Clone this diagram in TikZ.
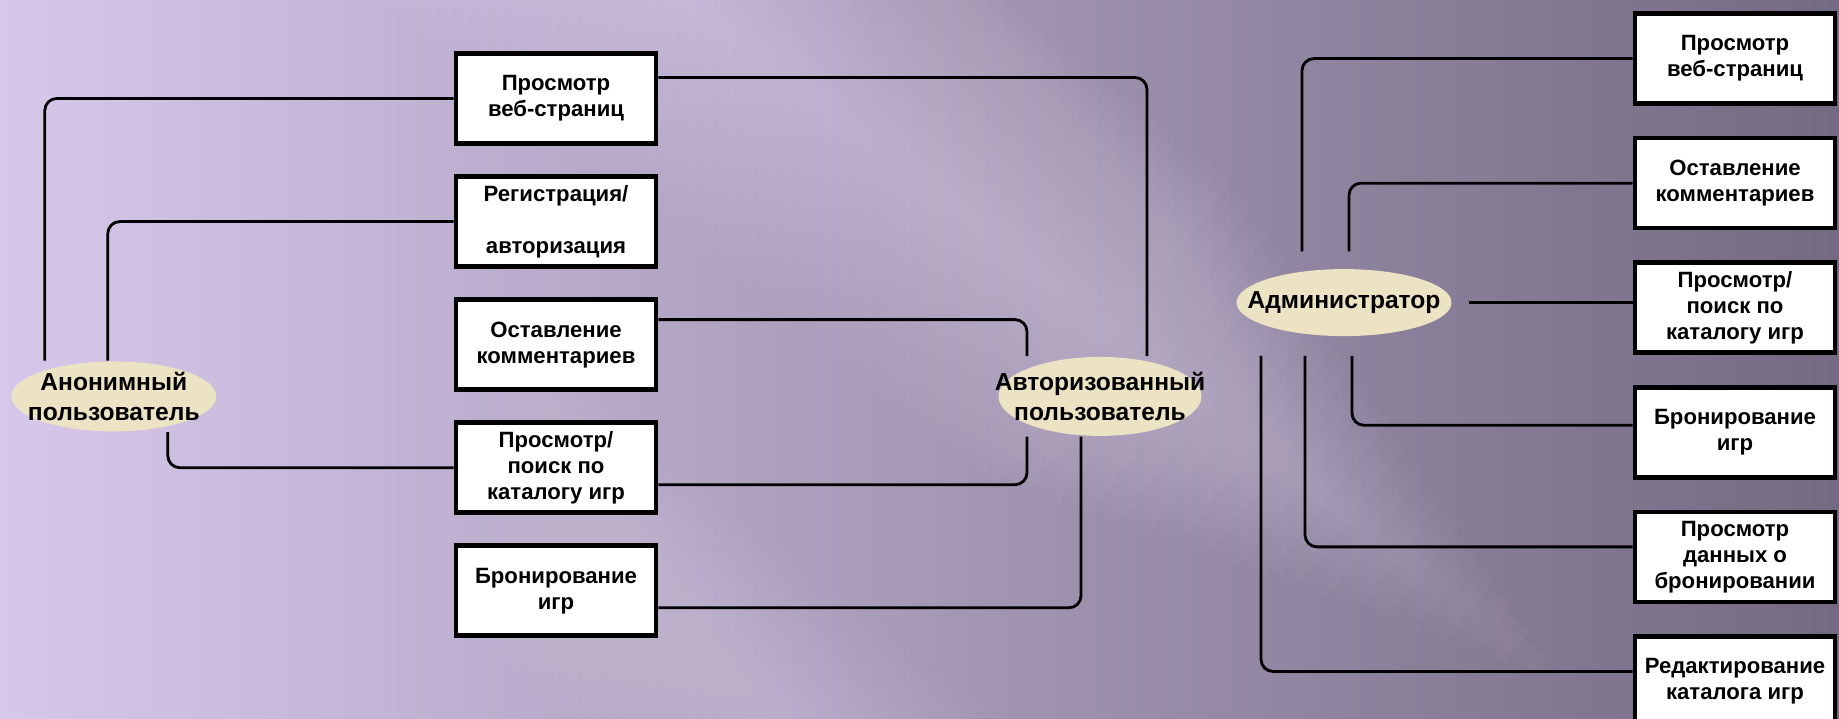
\documentclass[tikz,border=0pt]{standalone}
\usepackage{fontspec}
\setmainfont{Liberation Sans}
\usetikzlibrary{positioning, shapes.geometric}

\definecolor{bgleft}{RGB}{214,200,234}
\definecolor{bgmid}{RGB}{150,136,166}
\definecolor{bgright}{RGB}{116,106,130}
\definecolor{streak}{RGB}{230,218,244}
\definecolor{actorfill}{RGB}{236,226,196}

\begin{document}
\begin{tikzpicture}[node distance=0.285cm,
  funcbox/.style={draw=black, line width=1.3pt, fill=white, minimum width=2cm, minimum height=0.9cm, inner sep=1pt, align=center, font=\bfseries\fontsize{6.3}{7.4}\selectfont},
  actor/.style={ellipse, fill=actorfill, inner sep=0pt},
  actortext/.style={align=center, font=\bfseries\fontsize{7}{8.3}\selectfont},
  link/.style={line width=0.8pt, rounded corners=0.12cm}]
% background
\useasboundingbox (0,0) rectangle (18.39,7.19);
\clip (0,0) rectangle (18.39,7.19);
\shade[left color=bgleft, middle color=bgmid, right color=bgright] (0,0) rectangle (18.39,7.19);
\begin{scope}[rotate around={-38:(6.9,7.19)}]
\foreach \w in {0.1,0.2,...,1.9}
  \fill[streak, opacity=0.03] (4,7.19-\w) rectangle (18-3*\w,7.19+\w);
\end{scope}
\begin{scope}[rotate around={-38:(2.5,4.2)}]
\foreach \w in {0.1,0.2,...,1.3}
  \fill[streak, opacity=0.025] (0,4.2-\w) rectangle (12,4.2+\w);
\end{scope}

% functions of the guest and the registered user
\node[funcbox] (lview) at (5.56,6.205) {Просмотр\\веб-страниц};
\node[funcbox, below=of lview] (lreg) {Регистрация/\\[7.4pt]авторизация};
\node[funcbox, below=of lreg] (lcomm) {Оставление\\комментариев};
\node[funcbox, below=of lcomm] (lsearch) {Просмотр/\\поиск по\\каталогу игр};
\node[funcbox, below=of lsearch] (lbook) {Бронирование\\игр};

% functions of the administrator
\node[funcbox] (rview) at (17.35,6.604) {Просмотр\\веб-страниц};
\node[funcbox, below=0.3cm of rview] (rcomm) {Оставление\\комментариев};
\node[funcbox, below=0.3cm of rcomm] (rsearch) {Просмотр/\\поиск по\\каталогу игр};
\node[funcbox, below=0.3cm of rsearch] (rbook) {Бронирование\\игр};
\node[funcbox, below=0.3cm of rbook] (rdata) {Просмотр\\данных о\\бронировании};
\node[funcbox, below=0.3cm of rdata] (redit) {Редактирование\\каталога игр};

% actors
\node[actor, minimum width=2.05cm, minimum height=0.7cm, label={[actortext]center:{Анонимный\\пользователь}}] (anon) at (1.138,3.226) {};
\node[actor, minimum width=2.03cm, minimum height=0.79cm, label={[actortext]center:{Авторизованный\\пользователь}}] (auth) at (11.0,3.226) {};
\node[actor, minimum width=2.15cm, minimum height=0.67cm, label={[actortext]center:Администратор}] (admin) at (13.44,4.164) {};

% links
\draw[link] ([xshift=-0.69cm]anon.north) |- (lview.west);
\draw[link] ([xshift=-0.06cm]anon.north) |- (lreg.west);
\draw[link] ([xshift=0.54cm]anon.south) |- (lsearch.west);

\draw[link] ([yshift=0.21cm]lview.east) -| ([xshift=0.47cm]auth.north);
\draw[link] ([yshift=0.25cm]lcomm.east) -| ([xshift=-0.73cm]auth.north);
\draw[link] ([yshift=-0.17cm]lsearch.east) -| ([xshift=-0.73cm]auth.south);
\draw[link] ([yshift=-0.17cm]lbook.east) -| ([xshift=-0.19cm]auth.south);

\draw[link] ([xshift=-0.42cm, yshift=0.17cm]admin.north) |- (rview.west);
\draw[link] ([xshift=0.05cm, yshift=0.17cm]admin.north) |- (rcomm.west);
\draw[link] ([xshift=0.17cm]admin.east) -- (admin.east -| rsearch.west);
\draw[link] ([xshift=0.08cm, yshift=-0.19cm]admin.south) |- ([yshift=0.07cm]rbook.west);
\draw[link] ([xshift=-0.39cm, yshift=-0.19cm]admin.south) |- ([yshift=0.1cm]rdata.west);
\draw[link] ([xshift=-0.83cm, yshift=-0.19cm]admin.south) |- ([yshift=0.1cm]redit.west);
\end{tikzpicture}
\end{document}
